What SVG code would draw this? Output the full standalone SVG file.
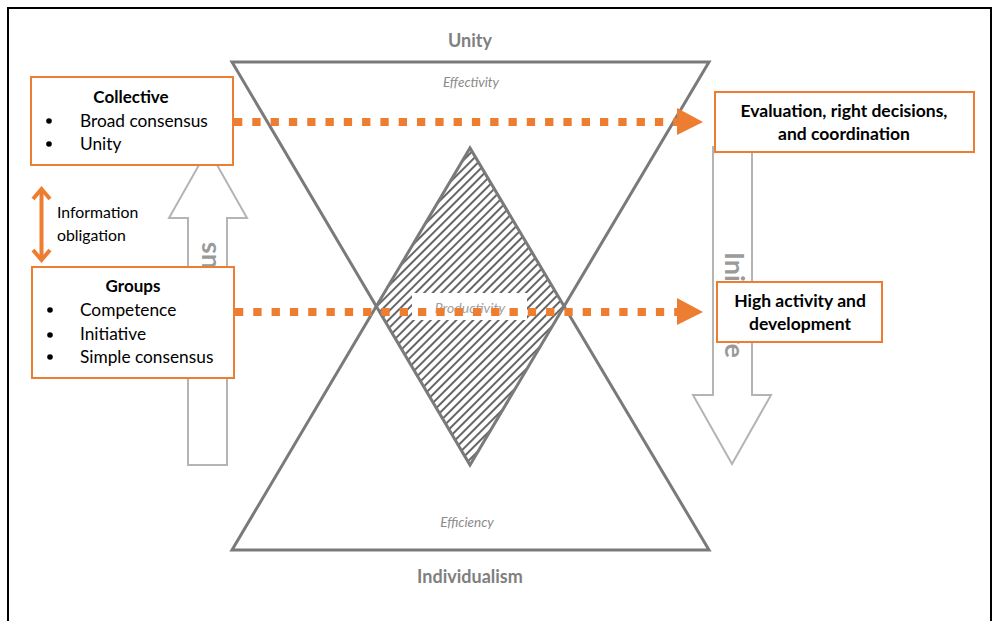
<svg xmlns="http://www.w3.org/2000/svg" width="995" height="621" viewBox="0 0 995 621">
<style>
.frame{fill:none;stroke:#000;stroke-width:2}
.tri{fill:none;stroke:#7a7a7a;stroke-width:3;stroke-linejoin:miter}
.blk{fill:#fff;stroke:#b4b4b4;stroke-width:2}
.box{fill:#fff;stroke:#ED7D31;stroke-width:2}
.t{font-family:Lato,"Liberation Sans",sans-serif;fill:#000}
.b{font-weight:bold}
.g{fill:#7f7f7f}
.lg{fill:#9a9a9a}
.ig{fill:#8a8a8a}
.pg{fill:#a0a0a0}
.it{font-style:italic}
.dot{fill:none;stroke:#ED7D31;stroke-width:8;stroke-dasharray:8.3 10}
.ah{fill:#ED7D31}
.reg{font-size:17.3px}
.hd{font-size:17px}
</style>
<defs>
<pattern id="hatch" width="6" height="6" patternUnits="userSpaceOnUse" patternTransform="rotate(-45)">
<rect width="6" height="6" fill="#fff"/>
<line x1="0" y1="3" x2="6" y2="3" stroke="#666" stroke-width="2"/>
</pattern>
</defs>
<rect class="frame" x="8" y="8" width="983" height="640"/>

<g id="hourglass">
<polygon points="470,148 564,306 470,465 377,306" fill="url(#hatch)"/>
<polygon class="tri" points="232,62 709,62 470,465"/>
<polygon class="tri" points="232,550 709,550 470,148"/>
<rect x="412" y="293" width="115" height="27" fill="#fff"/>
<text class="t it pg" x="470" y="313" font-size="14" text-anchor="middle">Productivity</text>
<text class="t it ig" x="471" y="87" font-size="13.5" text-anchor="middle">Effectivity</text>
<text class="t it ig" x="467" y="527" font-size="13.5" text-anchor="middle">Efficiency</text>
</g>
<g id="unity"><text class="t b g" x="470" y="47" font-size="18" text-anchor="middle">Unity</text></g>
<g id="individualism"><text class="t b g" x="470" y="583" font-size="18" text-anchor="middle">Individualism</text></g>

<g id="consensus-arrow">
<polygon class="blk" points="208,149 247,218 227,218 227,465 188,465 188,218 169,218"/>
<text class="t b lg" transform="translate(216,242) rotate(-90)" font-size="27" text-anchor="end">Consensus</text>
</g>
<g id="initiative-arrow">
<polygon class="blk" points="713,147 752,147 752,395 771,395 732,464 693,395 713,395"/>
<text class="t b lg" transform="translate(725,252) rotate(90)" font-size="27" textLength="106" lengthAdjust="spacing">Initiative</text>
</g>

<g id="connectors">
<line class="dot" x1="234" y1="122" x2="677" y2="122"/>
<polygon class="ah" points="677,108 703,122 677,135"/>
<line class="dot" x1="235" y1="312" x2="677" y2="312"/>
<polygon class="ah" points="677,298 703,312 677,325"/>
<line x1="41.5" y1="190" x2="41.5" y2="259" stroke="#ED7D31" stroke-width="4"/>
<polyline points="33,199 41.5,189 50,199" fill="none" stroke="#ED7D31" stroke-width="4" stroke-linejoin="miter"/>
<polyline points="33,250 41.5,260 50,250" fill="none" stroke="#ED7D31" stroke-width="4" stroke-linejoin="miter"/>
</g>
<g id="info-label">
<text class="t" x="57" y="218" font-size="15.8">Information</text>
<text class="t" x="57" y="241" font-size="15.8">obligation</text>
</g>

<g id="collective">
<rect class="box" x="31" y="77" width="202" height="88"/>
<text class="t b hd" x="131" y="103" text-anchor="middle">Collective</text>
<circle cx="49" cy="121" r="2.8"/>
<text class="t reg" x="80" y="127">Broad consensus</text>
<circle cx="49" cy="144" r="2.8"/>
<text class="t reg" x="80" y="150">Unity</text>
</g>

<g id="groups">
<rect class="box" x="32" y="267" width="202" height="111"/>
<text class="t b hd" x="133" y="292" text-anchor="middle">Groups</text>
<circle cx="50" cy="310" r="2.8"/>
<text class="t reg" x="80" y="316">Competence</text>
<circle cx="50" cy="335" r="2.8"/>
<text class="t reg" x="80" y="340">Initiative</text>
<circle cx="50" cy="357" r="2.8"/>
<text class="t reg" x="80" y="363">Simple consensus</text>
</g>

<g id="evaluation">
<rect class="box" x="715" y="92" width="259" height="60"/>
<text class="t b" x="844" y="117" font-size="17.5" text-anchor="middle">Evaluation, right decisions,</text>
<text class="t b" x="844" y="140" font-size="17.5" text-anchor="middle">and coordination</text>
</g>

<g id="high-activity">
<rect class="box" x="717" y="282" width="165" height="60"/>
<text class="t b" x="800" y="307" font-size="17.5" text-anchor="middle">High activity and</text>
<text class="t b" x="800" y="330" font-size="17.5" text-anchor="middle">development</text>
</g>
</svg>
